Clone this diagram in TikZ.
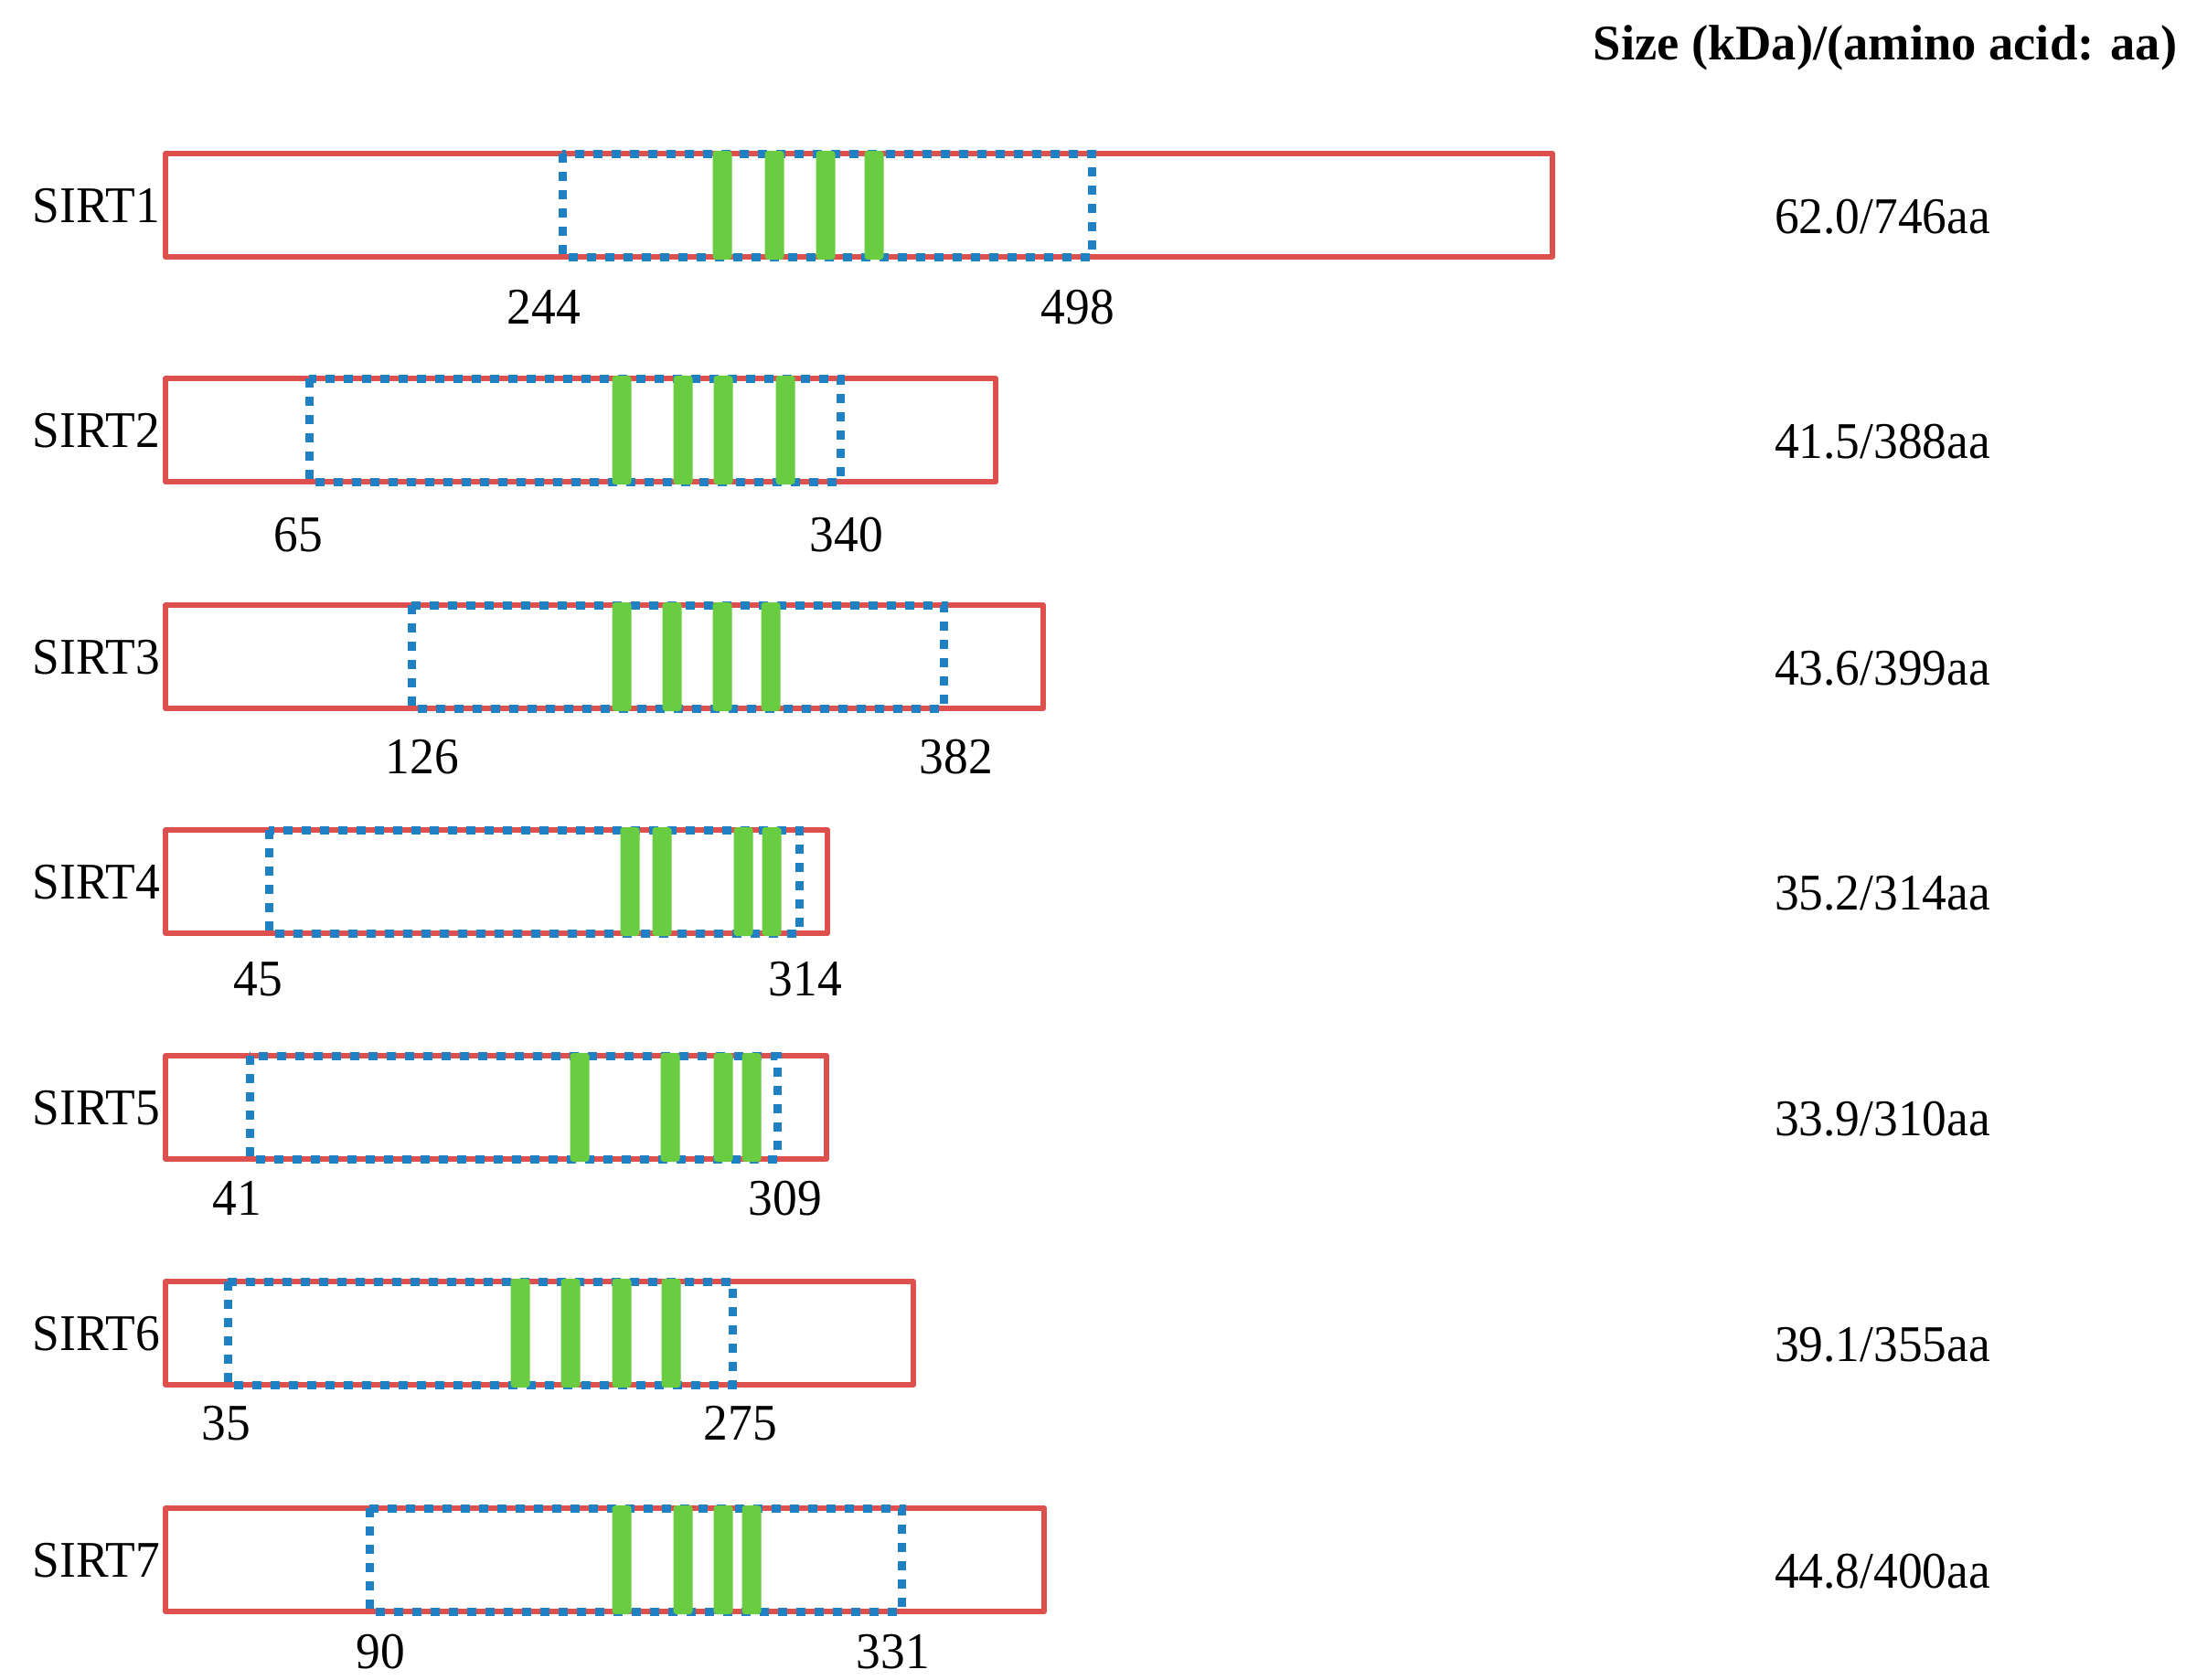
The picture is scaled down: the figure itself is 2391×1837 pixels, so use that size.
\documentclass[tikz,border=0pt]{standalone}
\usepackage{fontspec}
\setmainfont{Liberation Serif}[FakeStretch=0.95]
\newfontfamily\headfont{Liberation Serif}
\definecolor{protred}{RGB}{222,80,78}
\definecolor{domblue}{RGB}{32,128,196}
\definecolor{motifgreen}{RGB}{106,204,64}
\tikzset{
  protbox/.style={draw=protred, line width=0.6mm, line join=round},
  sirtdomain/.style={draw=domblue, line width=0.9mm, dash pattern=on 1mm off 1mm},
  motifbar/.style={fill=motifgreen, draw=none, rounded corners=0.35mm},
  txt/.style={inner sep=0pt, font=\fontsize{16}{19}\selectfont},
  headtxt/.style={inner sep=0pt, font=\headfont\bfseries\fontsize{15.5}{19}\selectfont},
}
\begin{document}
\begin{tikzpicture}[x=0.1mm, y=-0.1mm]
\path[use as bounding box, fill=white] (0,0) rectangle (2391,1837);
\node[headtxt, anchor=base west] (head) at (1742,65) {Size (kDa)/(amino acid: aa)};
\foreach \idx/\ytop/\rend/\bl/\br/\ga/\gb/\gc/\gd/\la/\lax/\lb/\lbx/\ly/\kd/\na in {
  1/168/1698/615/1194/790/847/903/956/244/595/498/1179/336/62.0/746,
  2/414/1089/338/919/680/747/791/859/65/326/340/926/585/41.5/388,
  3/662/1141/450/1032/680/735/790/843/126/462/382/1046/828/43.6/399,
  4/908/905/294/874/689/724/813/844/45/282/314/881/1071/35.2/314,
  5/1155/904/273/850/634/733/791/822/41/259/309/859/1311/33.9/310,
  6/1402/999/249/801/569/624/680/734/35/247/275/810/1557/39.1/355,
  7/1650/1142/404/986/680/747/791/822/90/416/331/977/1807/44.8/400}{
  \draw[protbox] (181,\ytop) rectangle (\rend,{\ytop+113});
  \draw[sirtdomain] (\bl,\ytop) rectangle (\br,{\ytop+113});
  \foreach \g in {\ga,\gb,\gc,\gd}{
    \fill[motifbar] ({\g-10.5},{\ytop-3}) rectangle ({\g+10.5},{\ytop+116});
  }
  \node[txt, anchor=base west] (name\idx) at (35,{\ytop+56.5+18.5}) {SIRT\idx};
  \node[txt] (start\idx) at (\lax,\ly) {\la};
  \node[txt] (end\idx) at (\lbx,\ly) {\lb};
  \node[txt, anchor=base] (size\idx) at (2059,{\ytop+56.5+31}) {\kd/\na aa};
}
\end{tikzpicture}
\end{document}
